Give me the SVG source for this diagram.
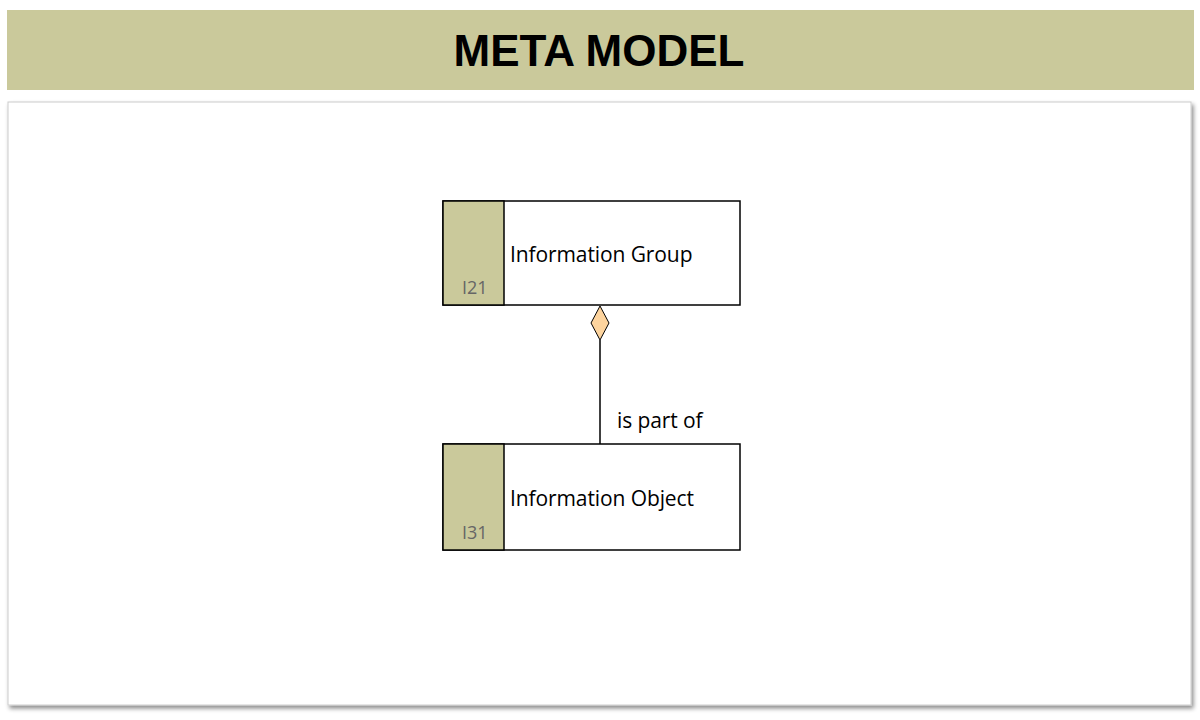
<svg xmlns="http://www.w3.org/2000/svg" width="1200" height="720" viewBox="0 0 1200 720">
<defs>
<style>
.box{fill:#fff;stroke:#000;stroke-width:1.5}
.tab{fill:#cac99b;stroke:#000;stroke-width:1.5}
.lbl{font-family:"Open Sans","Liberation Sans",sans-serif;font-size:21px;fill:#000;letter-spacing:-0.1px}
.code{font-family:"Open Sans","Liberation Sans",sans-serif;font-size:18px;fill:#666}
</style>
<filter id="sh" x="-5%" y="-5%" width="110%" height="110%"><feDropShadow dx="2" dy="3" stdDeviation="2" flood-color="#000" flood-opacity="0.45"/></filter>
</defs>
<rect width="1200" height="720" fill="#fff"/>
<rect x="7" y="10" width="1187" height="80" fill="#cac99b"/>
<text x="599" y="66" text-anchor="middle" font-family="Liberation Sans,Arial,sans-serif" font-weight="bold" font-size="44" fill="#000">META MODEL</text>
<rect x="8" y="102" width="1183" height="603" fill="#fff" stroke="#ccc" stroke-width="1" filter="url(#sh)"/>
<g id="connectors">
<line x1="600" y1="340" x2="600" y2="444" stroke="#000" stroke-width="1.5"/>
<polygon points="600,306 609,323 600,340 591,323" fill="#fdd49e" stroke="#000" stroke-width="1"/>
<text class="lbl" x="617" y="428">is part of</text>
</g>
<g id="n1">
<rect class="box" x="443" y="201" width="297" height="104"/>
<rect class="tab" x="443" y="201" width="61" height="104"/>
<text class="code" x="462" y="294">I21</text>
<text class="lbl" x="510" y="262">Information Group</text>
</g>
<g id="n2">
<rect class="box" x="443" y="444" width="297" height="106"/>
<rect class="tab" x="443" y="444" width="61" height="106"/>
<text class="code" x="462" y="539">I31</text>
<text class="lbl" x="510" y="506">Information Object</text>
</g>
</svg>
